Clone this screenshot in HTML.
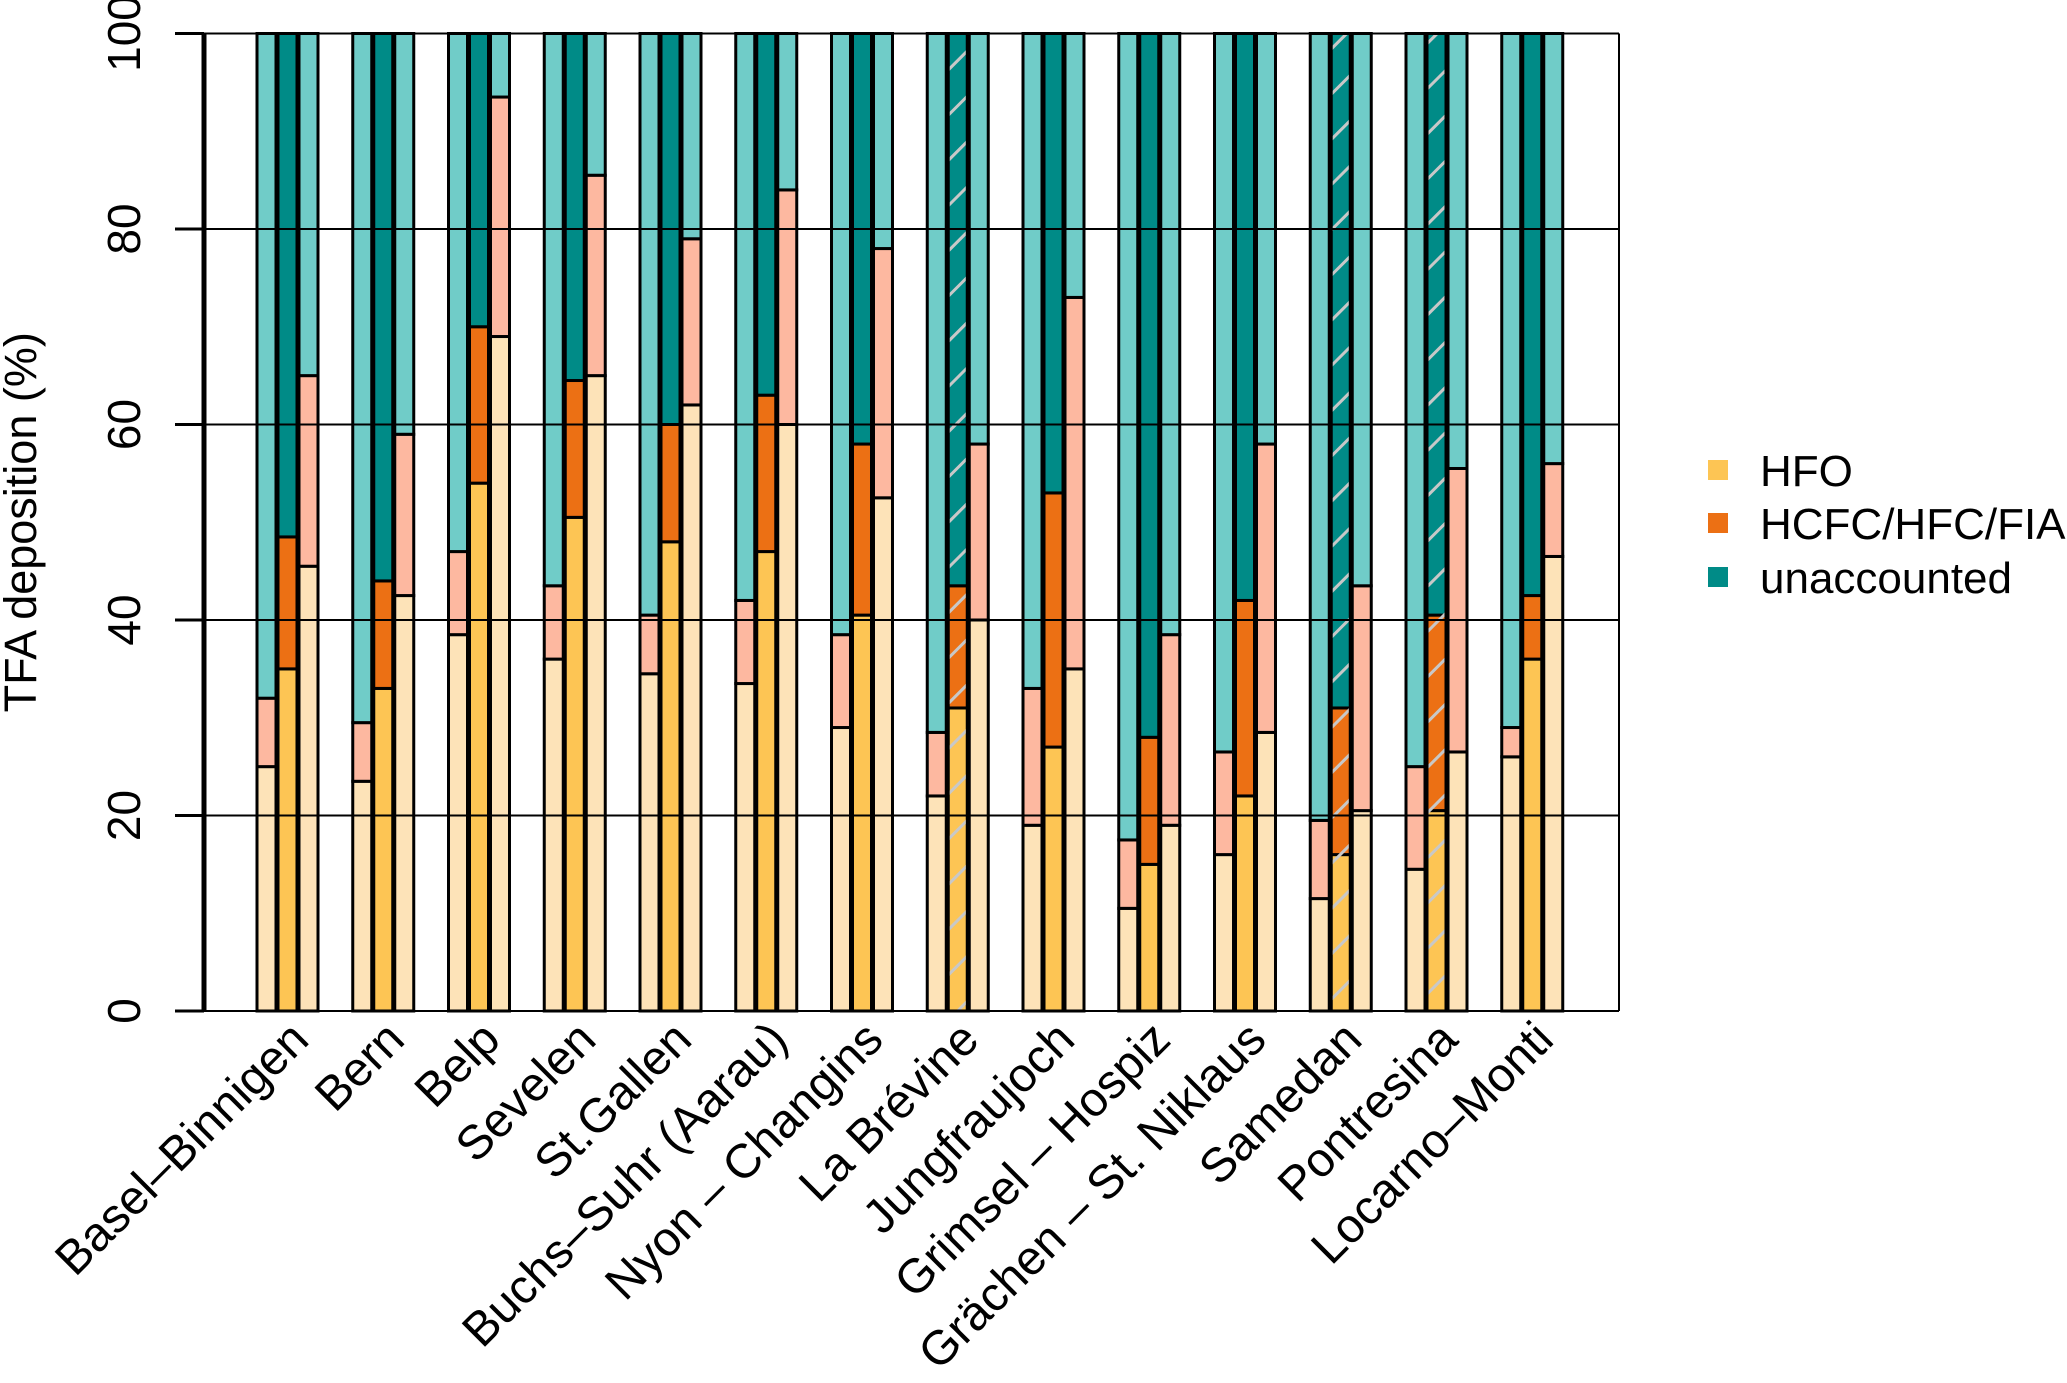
<!DOCTYPE html>
<html><head><meta charset="utf-8"><style>
html,body{margin:0;padding:0;background:#fff;}
svg{display:block;font-family:"Liberation Sans",Arial,sans-serif;}
</style></head><body>
<svg id="chart" width="2067" height="1383" viewBox="0 0 2067 1383">
<defs>
<pattern id="hatch" patternUnits="userSpaceOnUse" width="32" height="32" patternTransform="rotate(45)">
<line x1="0" y1="0" x2="0" y2="32" stroke="#c8c8c8" stroke-width="3" transform="translate(16,0)" />
</pattern>
</defs>
<g id="bars"></g>
<g id="grid"></g>
<g id="axes"></g>
<g id="legend">
<rect x="1708" y="460" width="20" height="20" fill="#fdc554"/>
<text x="1760" y="486" font-size="44">HFO</text>
<rect x="1708" y="513" width="20" height="20" fill="#ec7014"/>
<text x="1760" y="539" font-size="44">HCFC/HFC/FIA</text>
<rect x="1708" y="567" width="20" height="20" fill="#008b87"/>
<text x="1760" y="593" font-size="44">unaccounted</text>
</g>
</svg>
<script>
const categories = ["Basel\u2013Binnigen","Bern","Belp","Sevelen","St.Gallen","Buchs\u2013Suhr (Aarau)","Nyon \u2013 Changins","La Br\u00e9vine","Jungfraujoch","Grimsel \u2013 Hospiz","Gr\u00e4chen \u2013 St. Niklaus","Samedan","Pontresina","Locarno\u2013Monti"];
const hfoA = [25,23.5,38.5,36,34.5,33.5,29,22,19,10.5,16,11.5,14.5,26];
const hcfcA = [7,6,8.5,7.5,6,8.5,9.5,6.5,14,7,10.5,8,10.5,3];
const hfoB = [35,33,54,50.5,48,47,40.5,31,27,15,22,16,20.5,36];
const hcfcB = [13.5,11,16,14,12,16,17.5,12.5,26,13,20,15,20,6.5];
const hfoC = [45.5,42.5,69,65,62,60,52.5,40,35,19,28.5,20.5,26.5,46.5];
const hcfcC = [19.5,16.5,24.5,20.5,17,24,25.5,18,38,19.5,29.5,23,29,9.5];
const hatched = [false,false,false,false,false,false,false,true,false,false,false,true,true,false];
const yTicks = [0,20,40,60,80,100];

const NS="http://www.w3.org/2000/svg";
const X0=204,X1=1619,Y0=1011,Y1=33.5;
const yS=v=>Y0-(v/100)*(Y0-Y1);
const gx=i=>257+i*95.75;
function mk(tag,attrs,parent){const e=document.createElementNS(NS,tag);for(const k in attrs)e.setAttribute(k,attrs[k]);parent.appendChild(e);return e;}
const bars=document.getElementById('bars'),grid=document.getElementById('grid'),axes=document.getElementById('axes');
const series=[
 {hfo:hfoA,hc:hcfcA,c:["#fde3b8","#fdb8a0","#70ccc8"],n:"a"},
 {hfo:hfoB,hc:hcfcB,c:["#fdc554","#ec7014","#008b87"],n:"b"},
 {hfo:hfoC,hc:hcfcC,c:["#fde3b8","#fdb8a0","#70ccc8"],n:"c"}];
categories.forEach((cat,i)=>{
 series.forEach((s,j)=>{
  const x=gx(i)+j*21,w=19;
  const v1=s.hfo[i],v2=v1+s.hc[i];
  const segs=[[0,v1,s.c[0],'hfo'],[v1,v2,s.c[1],'hcfc'],[v2,100,s.c[2],'unaccounted']];
  segs.forEach(sg=>{
   const r=mk('rect',{x:x,y:yS(sg[1]),width:w,height:yS(sg[0])-yS(sg[1]),fill:sg[2],stroke:'#000','stroke-width':3},bars);
   
   
  });
  if(j===1&&hatched[i]){
   const h=mk('rect',{x:x+1.5,y:yS(100)+1.5,width:w-3,height:yS(0)-yS(100)-3,fill:'url(#hatch)'},bars);
   
   
  }
 });
 const cx=gx(i)+40;
 const t=mk('text',{x:0,y:0,'font-size':48,'text-anchor':'end',transform:`translate(${cx+14},${1042}) rotate(-45)`},axes);
 t.textContent=cat;
 
 
});
yTicks.forEach(v=>{
 const l=mk('line',{x1:X0,x2:X1,y1:yS(v),y2:yS(v),stroke:'#000','stroke-width':2},grid);
 
 
 const tk=mk('line',{x1:175,x2:X0,y1:yS(v),y2:yS(v),stroke:'#000','stroke-width':3},axes);
 
 
 const t=mk('text',{x:0,y:0,'font-size':46,'text-anchor':'middle',transform:`translate(140,${yS(v)}) rotate(-90)`},axes);
 t.textContent=v;
 
 
});
const ax=mk('line',{x1:X0,x2:X0,y1:Y1-1,y2:Y0+1,stroke:'#000','stroke-width':5},axes);


const rb=mk('line',{x1:X1,x2:X1,y1:Y1,y2:Y0,stroke:'#000','stroke-width':2},axes);


const yt=mk('text',{x:0,y:0,'font-size':45,'text-anchor':'middle',transform:`translate(36,${yS(50)}) rotate(-90)`},axes);
yt.textContent='TFA deposition (%)';


</script>
</body></html>
